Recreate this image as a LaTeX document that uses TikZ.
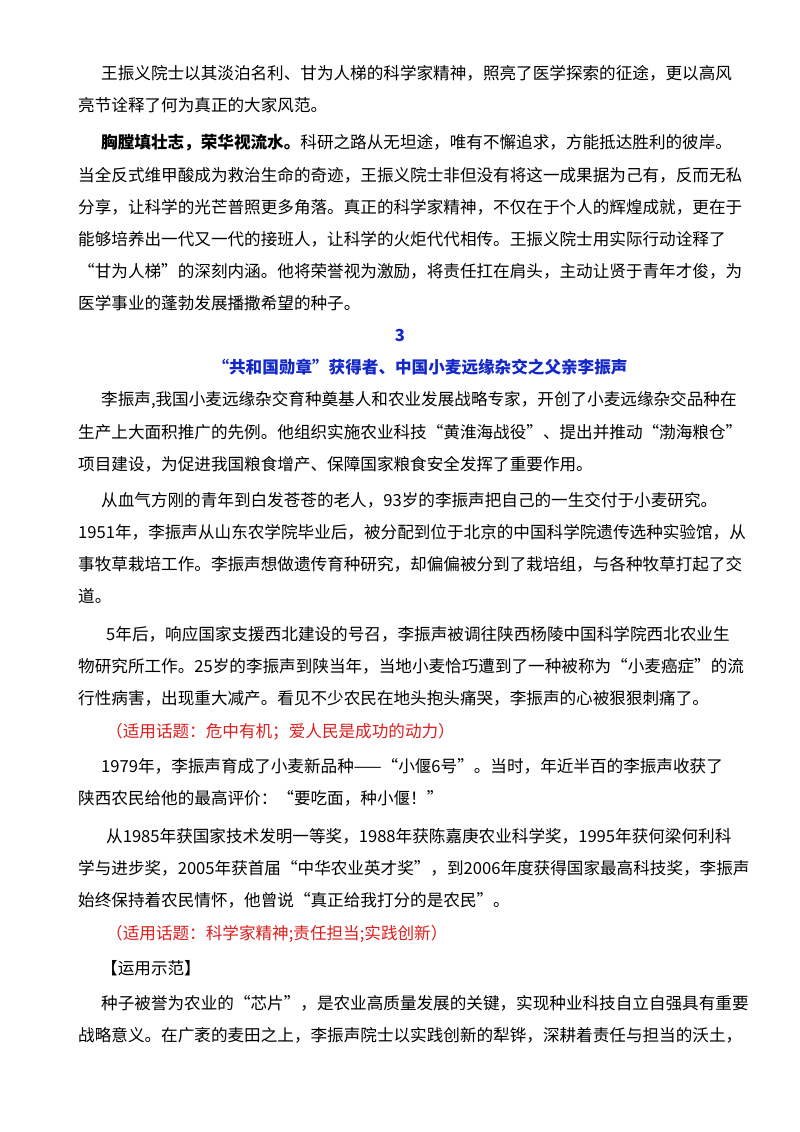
\documentclass[tikz,border=0pt]{standalone}
\usepackage{fontspec}
\setmainfont{Liberation Serif}
\newfontfamily\cjk{Noto Sans CJK SC}
\definecolor{tblue}{RGB}{20,40,200}
\definecolor{tred}{RGB}{220,30,30}
\begin{document}
\begin{tikzpicture}[x=1pt,y=1pt,
  ln/.style={anchor=west,inner sep=0pt,font=\cjk\fontsize{16.6}{20}\selectfont},
  hd/.style={inner sep=0pt,text=tblue,font=\cjk\bfseries\fontsize{16.6}{20}\selectfont},
  rd/.style={ln,text=tred}]
\useasboundingbox[fill=white] (0,0) rectangle (800,-1132);
\node[ln] (l1) at (101,-73) {王振义院士以其淡泊名利、甘为人梯的科学家精神，照亮了医学探索的征途，更以高风};
\node[ln] (l2) at (78,-105) {亮节诠释了何为真正的大家风范。};
\node[ln] (l3) at (101,-143) {{\bfseries 胸膛填壮志，荣华视流水。}科研之路从无坦途，唯有不懈追求，方能抵达胜利的彼岸。};
\node[ln] (l4) at (78,-175) {当全反式维甲酸成为救治生命的奇迹，王振义院士非但没有将这一成果据为己有，反而无私};
\node[ln] (l5) at (78,-207) {分享，让科学的光芒普照更多角落。真正的科学家精神，不仅在于个人的辉煌成就，更在于};
\node[ln] (l6) at (78,-239) {能够培养出一代又一代的接班人，让科学的火炬代代相传。王振义院士用实际行动诠释了};
\node[ln] (l7) at (78,-271) {“甘为人梯”的深刻内涵。他将荣誉视为激励，将责任扛在肩头，主动让贤于青年才俊，为};
\node[ln] (l8) at (78,-303) {医学事业的蓬勃发展播撒希望的种子。};
\node[hd] (h1) at (400,-335) {3};
\node[hd] (h2) at (420,-367) {“共和国勋章”获得者、中国小麦远缘杂交之父亲李振声};
\node[ln] (l11) at (101,-400) {李振声,我国小麦远缘杂交育种奠基人和农业发展战略专家，开创了小麦远缘杂交品种在};
\node[ln] (l12) at (78,-432) {生产上大面积推广的先例。他组织实施农业科技“黄淮海战役”、提出并推动“渤海粮仓”};
\node[ln] (l13) at (78,-464) {项目建设，为促进我国粮食增产、保障国家粮食安全发挥了重要作用。};
\node[ln] (l14) at (101,-500) {从血气方刚的青年到白发苍苍的老人，93岁的李振声把自己的一生交付于小麦研究。};
\node[ln] (l15) at (78,-532) {1951年，李振声从山东农学院毕业后，被分配到位于北京的中国科学院遗传选种实验馆，从};
\node[ln] (l16) at (78,-564) {事牧草栽培工作。李振声想做遗传育种研究，却偏偏被分到了栽培组，与各种牧草打起了交};
\node[ln] (l17) at (78,-596) {道。};
\node[ln] (l18) at (106,-634) {5年后，响应国家支援西北建设的号召，李振声被调往陕西杨陵中国科学院西北农业生};
\node[ln] (l19) at (78,-666) {物研究所工作。25岁的李振声到陕当年，当地小麦恰巧遭到了一种被称为“小麦癌症”的流};
\node[ln] (l20) at (78,-698) {行性病害，出现重大减产。看见不少农民在地头抱头痛哭，李振声的心被狠狠刺痛了。};
\node[rd] (r1) at (106,-732) {（适用话题：危中有机；爱人民是成功的动力）};
\node[ln] (l22) at (101,-766) {1979年，李振声育成了小麦新品种——“小偃6号”。当时，年近半百的李振声收获了};
\node[ln] (l23) at (78,-798) {陕西农民给他的最高评价：“要吃面，种小偃！”};
\node[ln] (l24) at (106,-836) {从1985年获国家技术发明一等奖，1988年获陈嘉庚农业科学奖，1995年获何梁何利科};
\node[ln] (l25) at (78,-868) {学与进步奖，2005年获首届“中华农业英才奖”，到2006年度获得国家最高科技奖，李振声};
\node[ln] (l26) at (78,-900) {始终保持着农民情怀，他曾说“真正给我打分的是农民”。};
\node[rd] (r2) at (106,-934) {（适用话题：科学家精神;责任担当;实践创新）};
\node[ln] (l28) at (101,-968) {【运用示范】};
\node[ln] (l29) at (101,-1003) {种子被誉为农业的“芯片”，是农业高质量发展的关键，实现种业科技自立自强具有重要};
\node[ln] (l30) at (78,-1035) {战略意义。在广袤的麦田之上，李振声院士以实践创新的犁铧，深耕着责任与担当的沃土，};
\end{tikzpicture}
\end{document}
